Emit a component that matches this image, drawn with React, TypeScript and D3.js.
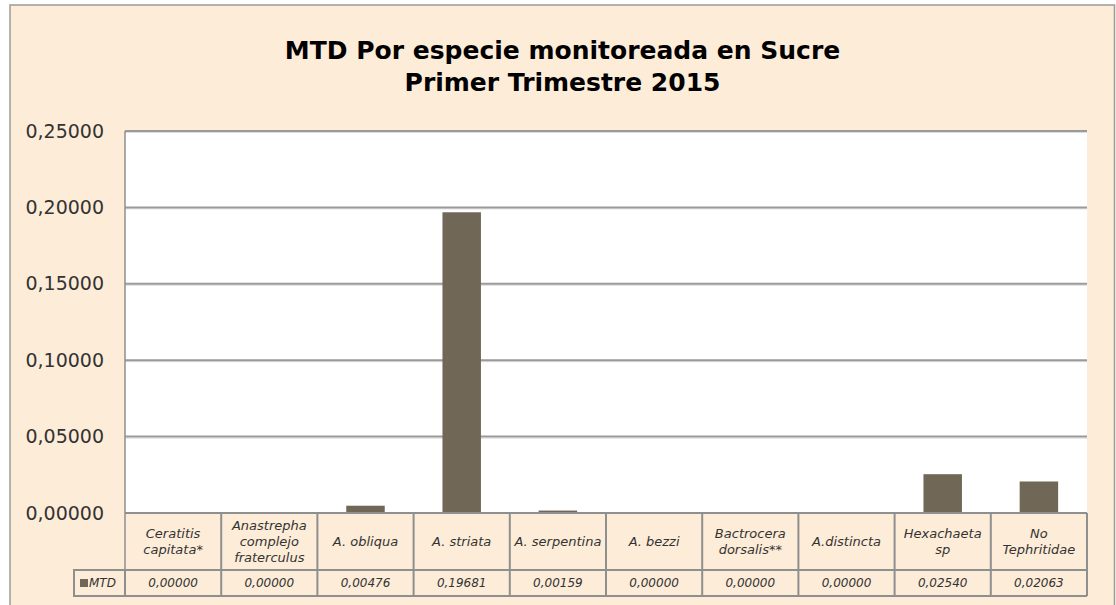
import React from 'react'
import * as d3 from 'd3'

const titleLines = ['MTD Por especie monitoreada en Sucre', 'Primer Trimestre 2015']
const seriesName = 'MTD'
const categories = [
  'Ceratitis capitata*',
  'Anastrepha complejo fraterculus',
  'A. obliqua',
  'A. striata',
  'A. serpentina',
  'A. bezzi',
  'Bactrocera dorsalis**',
  'A.distincta',
  'Hexachaeta sp',
  'No Tephritidae',
]
const categoryLines = [
  ['Ceratitis', 'capitata*'],
  ['Anastrepha', 'complejo', 'fraterculus'],
  ['A. obliqua'],
  ['A. striata'],
  ['A. serpentina'],
  ['A. bezzi'],
  ['Bactrocera', 'dorsalis**'],
  ['A.distincta'],
  ['Hexachaeta', 'sp'],
  ['No', 'Tephritidae'],
]
const values = [0, 0, 0.00476, 0.19681, 0.00159, 0, 0, 0, 0.0254, 0.02063]
const yTicks = [0, 0.05, 0.1, 0.15, 0.2, 0.25]

const W = 1116
const H = 605
const bg = '#fdecd8'
const barColor = '#716757'
const lineColor = '#8f8f8f'
const font = '"Century Gothic", "DejaVu Sans", sans-serif'

const plotLeft = 125
const plotRight = 1087
const plotTop = 131
const zeroY = 513
const catBottom = 570
const valBottom = 596
const legendLeft = 74

const fmt = (v: number) => d3.format('.5f')(v).replace('.', ',')

export default function App() {
  const y = d3.scaleLinear().domain([0, 0.25]).range([zeroY, plotTop])
  const x = d3.scaleBand<string>().domain(categories).range([plotLeft, plotRight])
    .paddingInner(0.6).paddingOuter(0.3)
  const col = d3.scaleBand<string>().domain(categories).range([plotLeft, plotRight])
  const catMid = (zeroY + catBottom) / 2
  const valMid = (catBottom + valBottom) / 2

  return (
    <>
      <style>{'body{margin:0}'}</style>
      <svg width={W} height={H} style={{ display: 'block', fontFamily: font }}>
        <rect x={0} y={0} width={W} height={H} fill="#fff" />
        {/* chart frame */}
        <rect x={10} y={5} width={1104.5} height={H + 10} fill={bg} stroke="#9a9a9a" strokeWidth={1.5} />

        {titleLines.map((t, i) => (
          <text key={t} x={562.5} y={59 + i * 32} textAnchor="middle" fontSize={25} fontWeight="bold" fill="#000">
            {t}
          </text>
        ))}

        {/* plot area */}
        <rect x={plotLeft} y={plotTop} width={plotRight - plotLeft} height={zeroY - plotTop} fill="#fff" />
        {yTicks.map(t => (
          <g key={t}>
            {t > 0 && (
              <>
                <line x1={plotLeft} x2={plotRight} y1={y(t) + 1.5} y2={y(t) + 1.5} stroke="#dcdcdc" strokeWidth={1} />
                <line x1={plotLeft} x2={plotRight} y1={y(t)} y2={y(t)} stroke="#9a9a9a" strokeWidth={2} />
              </>
            )}
            <text x={104} y={y(t)} dy="0.35em" textAnchor="end" fontSize={19} fill="#333">
              {fmt(t)}
            </text>
          </g>
        ))}
        <line x1={plotLeft} x2={plotLeft} y1={plotTop} y2={valBottom} stroke={lineColor} strokeWidth={1.5} />

        {values.map((v, i) => (
          <rect key={categories[i]} x={x(categories[i])} y={y(v)} width={x.bandwidth()}
            height={zeroY - y(v)} fill={barColor} />
        ))}

        {/* data table */}
        <rect x={legendLeft} y={catBottom} width={plotLeft - legendLeft} height={valBottom - catBottom}
          fill="none" stroke={lineColor} strokeWidth={2} />
        <rect x={80} y={valMid - 4} width={8} height={8} fill={barColor} />
        <text x={89} y={valMid} dy="0.35em" fontSize={12} fontStyle="italic" fill="#333">{seriesName}</text>
        <line x1={plotLeft} x2={plotRight} y1={zeroY} y2={zeroY} stroke={lineColor} strokeWidth={2} />
        <line x1={plotLeft} x2={plotRight} y1={catBottom} y2={catBottom} stroke={lineColor} strokeWidth={2} />
        <line x1={legendLeft} x2={plotRight} y1={valBottom} y2={valBottom} stroke={lineColor} strokeWidth={2} />
        {categories.map((c, i) => {
          const cx = col(c)! + col.bandwidth() / 2
          const lines = categoryLines[i]
          return (
            <g key={c}>
              <line x1={col(c)! + col.bandwidth()} x2={col(c)! + col.bandwidth()} y1={zeroY} y2={valBottom}
                stroke={lineColor} strokeWidth={2} />
              {lines.map((l, j) => (
                <text key={l} x={cx} y={catMid + (j - (lines.length - 1) / 2) * 16} dy="0.35em"
                  textAnchor="middle" fontSize={13} fontStyle="italic" fill="#333">{l}</text>
              ))}
              <text x={cx} y={valMid} dy="0.35em" textAnchor="middle" fontSize={12} fontStyle="italic" fill="#333">
                {fmt(values[i])}
              </text>
            </g>
          )
        })}
      </svg>
    </>
  )
}
